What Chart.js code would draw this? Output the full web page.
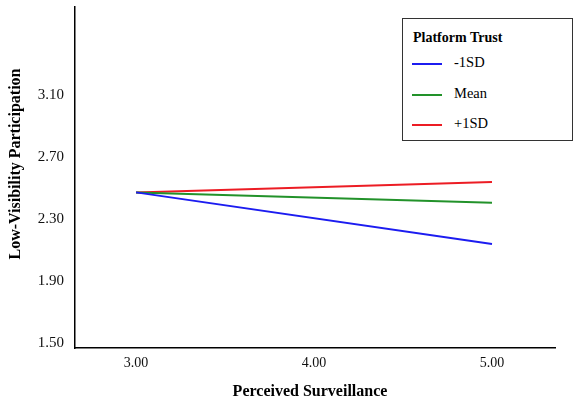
<!DOCTYPE html>
<html><head><meta charset="utf-8">
<script src="https://cdn.jsdelivr.net/npm/chart.js@4"></script>
<style>
html,body{margin:0;padding:0;background:#fff;}
#wrap{position:relative;width:575px;height:402px;}
#legend{position:absolute;left:402px;top:18px;width:171px;height:123px;border:1.5px solid #333;box-sizing:border-box;font-family:"Liberation Serif",serif;background:#fff;}
#legend .t{position:absolute;left:10px;top:11px;font-weight:bold;font-size:14px;}
#legend .r{position:absolute;left:9px;height:20px;font-size:14.5px;}
#legend .r span.l{position:absolute;left:0;top:9px;width:30px;height:2px;}
#legend .r span.x{position:absolute;left:42px;top:0;white-space:nowrap;}
</style></head>
<body><div id="wrap"><canvas id="c" width="575" height="402"></canvas><div id="legend"></div></div>
<script>
const xValues = [3.00, 5.00];
const seriesNames = ['-1SD', 'Mean', '+1SD'];
const lowSD = [2.472, 2.139];
const meanTrust = [2.472, 2.405];
const highSD = [2.472, 2.539];
const yTicks = [1.50, 1.90, 2.30, 2.70, 3.10];
const xTicks = [3.00, 4.00, 5.00];
const colors = ['#1c1cf0', '#22922a', '#ec1c24'];
const seriesData = [lowSD, meanTrust, highSD];

const datasets = seriesNames.map((n, i) => ({
  label: n,
  data: xValues.map((x, j) => ({x: x, y: seriesData[i][j]})),
  borderColor: colors[i], backgroundColor: colors[i],
  borderWidth: 2, pointRadius: 0, fill: false, tension: 0
}));

const titlePlugin = {
  id: 'axisTitles',
  afterDraw(chart) {
    const ctx = chart.ctx;
    ctx.save();
    ctx.fillStyle = '#000';
    ctx.textAlign = 'center';
    ctx.textBaseline = 'middle';
    ctx.font = 'bold 16px "Liberation Serif"';
    ctx.fillText('Perceived Surveillance', 310, 392);
    ctx.translate(16, 164);
    ctx.rotate(-Math.PI / 2);
    ctx.fillText('Low-Visibility Participation', 0, 0);
    ctx.restore();
  }
};

new Chart(document.getElementById('c'), {
  type: 'line',
  data: {datasets},
  options: {
    responsive: false, animation: false,
    layout: {padding: {top: 7, right: 20, left: 0, bottom: 0}},
    plugins: {legend: {display: false}, tooltip: {enabled: false}},
    scales: {
      x: {
        type: 'linear', min: 2.657, max: 5.354,
        grid: {display: false, drawTicks: false},
        border: {color: '#000', width: 1.5},
        afterBuildTicks: s => { s.ticks = xTicks.map(v => ({value: v})); },
        afterFit: s => { s.height = 54; s.paddingLeft = 0; s.paddingRight = 0; },
        ticks: {color: '#111', font: {family: 'Liberation Serif', size: 14}, padding: 7,
                callback: v => Number(v).toFixed(2), maxRotation: 0}
      },
      y: {
        type: 'linear', min: 1.468, max: 3.668,
        grid: {display: false, drawTicks: false},
        border: {color: '#000', width: 1.5},
        afterBuildTicks: s => { s.ticks = yTicks.map(v => ({value: v})); },
        afterFit: s => { s.width = 75; s.paddingTop = 0; s.paddingBottom = 0; },
        ticks: {color: '#111', font: {family: 'Liberation Serif', size: 15}, padding: 11,
                callback: v => Number(v).toFixed(2)}
      }
    }
  },
  plugins: [titlePlugin]
});

const lg = document.getElementById('legend');
let html = '<div class="t">Platform Trust</div>';
seriesNames.forEach((n, i) => {
  html += '<div class="r" style="top:' + (35 + i * 30.5) + 'px"><span class="l" style="background:' + colors[i] + '"></span><span class="x">' + n + '</span></div>';
});
lg.innerHTML = html;
</script></body></html>
